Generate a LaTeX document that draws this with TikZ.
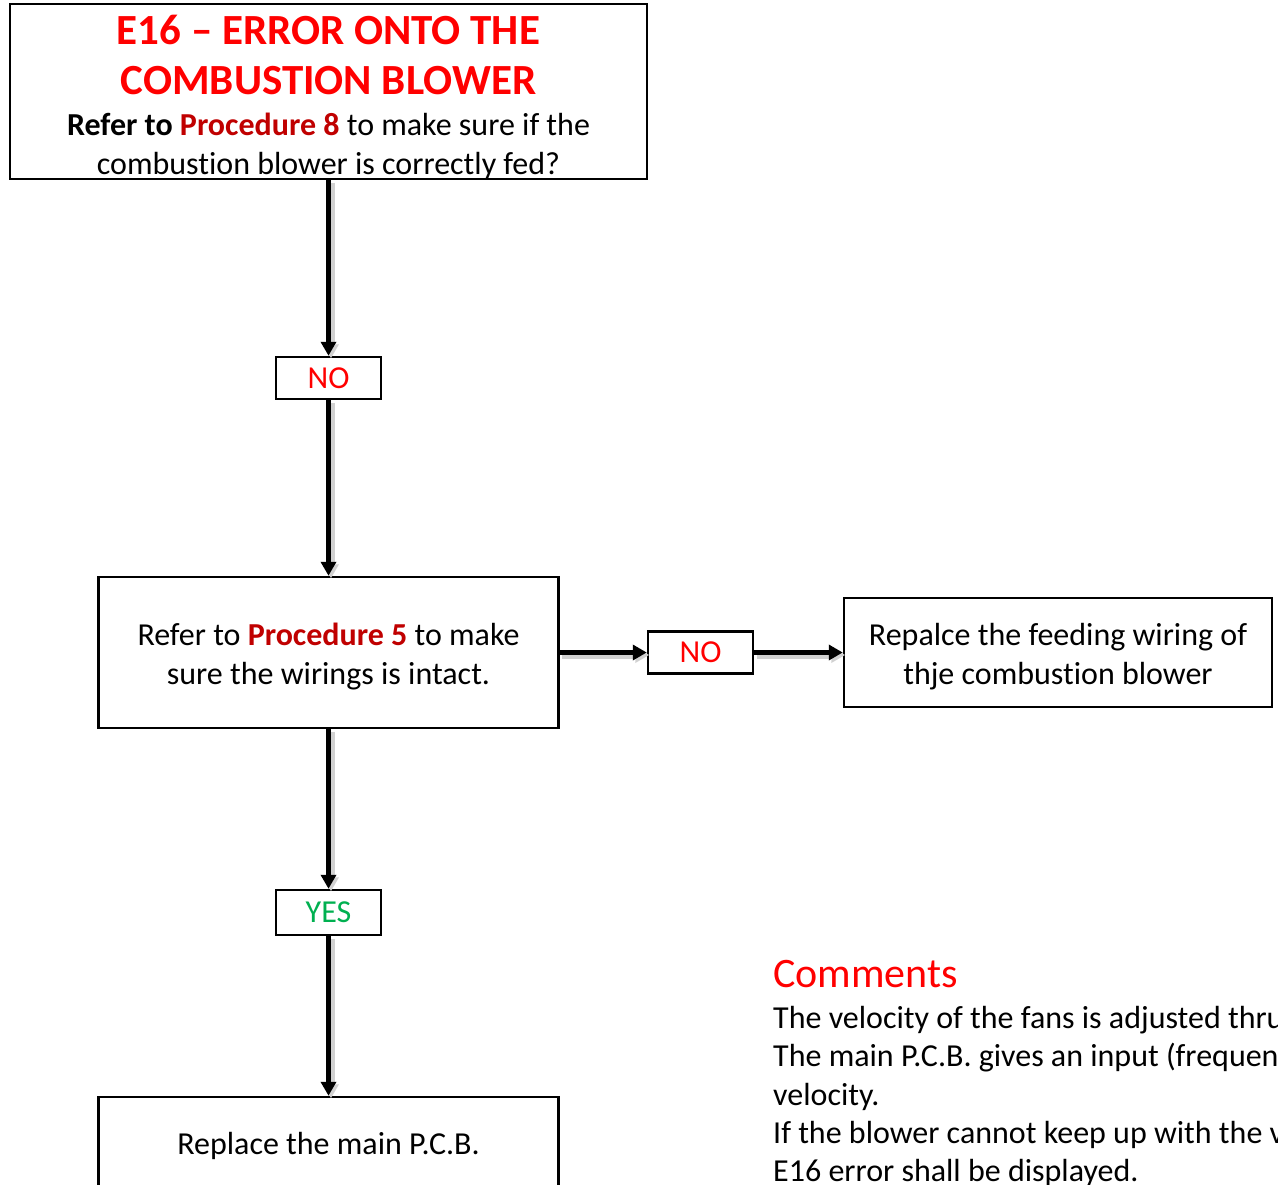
\documentclass[tikz,border=0pt]{standalone}
\usepackage{fontspec}
\setmainfont{Carlito}[Ligatures=NoCommon]
\usetikzlibrary{arrows.meta}
\setlength{\parindent}{0pt}
\definecolor{procred}{RGB}{192,0,0}
\definecolor{yesgreen}{RGB}{0,176,80}
\begin{document}
\begin{tikzpicture}[x=1pt,y=-1pt,
  box/.style={draw,line width=2.5pt,fill=white,inner sep=0pt,align=center,font=\fontsize{32}{39}\selectfont},
  tag/.style={draw,line width=2.5pt,fill=white,inner sep=0pt,font=\fontsize{32}{38}\selectfont,minimum width=105pt,minimum height=42pt},
  flow/.style={line width=5pt,-{Triangle[length=14pt,width=15pt]},
    preaction={draw=black!18,line width=7pt,transform canvas={xshift=2.5pt,yshift=-2.5pt}}},
  cmt/.style={anchor=base west,inner sep=0pt,font=\fontsize{32}{39}\selectfont},
  ttl/.style={anchor=base,inner sep=0pt,text=red,font=\fontsize{43}{50}\selectfont\bfseries},
  sub/.style={anchor=base,inner sep=0pt,font=\fontsize{32}{39}\selectfont},
]
\path[use as bounding box,clip] (0,0) rectangle (1278,1185);
\fill[white] (0,0) rectangle (1278,1185);

\node[draw,line width=2.5pt,fill=white,minimum width=637pt,minimum height=175pt,inner sep=0pt] (top) at (328.5,91.5) {};
\node[ttl] (t1) at (328.5,44.5) {E16 – ERROR ONTO THE};
\node[ttl] (t2) at (328.5,94.5) {COMBUSTION BLOWER};
\node[sub] (t3) at (328.5,135.5) {\textbf{Refer to \textcolor{procred}{Procedure 8}} to make sure if the};
\node[sub] (t4) at (328.5,174.5) {combustion blower is correctly fed?};

\node[tag] (no1) at (328.5,378) {\color{red}NO};
\node[box,minimum width=460pt,minimum height=151pt] (b2) at (328.5,652.5)
  {\rule{0pt}{31pt}Refer to \textbf{\color{procred}Procedure 5} to make\\sure the wirings is intact.};
\node[tag] (no2) at (700.5,652.5) {\color{red}NO};
\node[box,minimum width=428pt,minimum height=109pt] (b3) at (1058,652.5)
  {\rule{0pt}{31pt}Repalce the feeding wiring of\\thje combustion blower};
\node[tag,minimum height=45pt] (yes) at (328.5,912.5) {\color{yesgreen}YES};
\node[box,minimum width=460pt,minimum height=93pt] (b4) at (328.5,1143.5) {\rule{0pt}{28pt}Replace the main P.C.B.};

\draw[flow] (top.south) -- (no1.north);
\draw[flow] (no1.south) -- (b2.north);
\draw[flow] (b2.east) -- (no2.west);
\draw[flow] (no2.east) -- (b3.west);
\draw[flow] (b2.south) -- (yes.north);
\draw[flow] (yes.south) -- (b4.north);

\node[anchor=base west,inner sep=0pt,font=\fontsize{42}{50}\selectfont,text=red] (ctitle) at (773,987) {Comments};
\node[cmt] (c1) at (773,1028) {The velocity of the fans is adjusted thru};
\node[cmt] (c2) at (773,1066.5) {The main P.C.B. gives an input (frequen};
\node[cmt] (c3) at (773,1105) {velocity.};
\node[cmt] (c4) at (773,1143.5) {If the blower cannot keep up with the v};
\node[cmt] (c5) at (773,1181) {E16 error shall be displayed.};
\end{tikzpicture}
\end{document}
